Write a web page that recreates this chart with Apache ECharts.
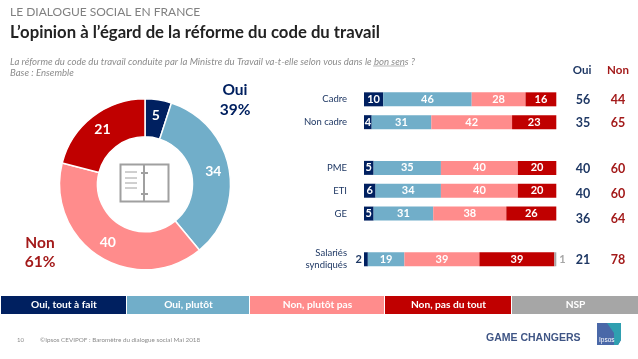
<!DOCTYPE html>
<html><head><meta charset="utf-8">
<style>html,body{margin:0;padding:0;background:#fff}#c{width:638px;height:359px}</style>
<script src="https://cdn.jsdelivr.net/npm/echarts@6/dist/echarts.min.js"></script>
</head><body><div id="c"></div>
<script>
const categories = ['Cadre','Non cadre','','PME','ETI','GE','','Salariés\nsyndiqués'];
const toutAFait = [10,4,null,5,6,5,null,2];
const plutot = [46,31,null,35,34,31,null,19];
const plutotPas = [28,42,null,40,40,38,null,39];
const pasDuTout = [16,23,null,20,20,26,null,39];
const nsp = [null,null,null,null,null,null,null,1];
const ouiTotals = [56,35,null,40,40,36,null,21];
const nonTotals = [44,65,null,60,60,64,null,78];
const totalsNudge = [1,1,0,1,3,5,0,1];
const pieNames = ['Oui, tout à fait','Oui, plutôt','Non, plutôt pas','Non, pas du tout'];
const pieValues = [5,34,40,21];
const legendNames = ['Oui, tout à fait','Oui, plutôt','Non, plutôt pas','Non, pas du tout','NSP'];
const colors = ['#002060','#71AEC9','#FF8C8C','#C00000','#A6A6A6'];
const legendEdges = [1,127,250,385,512,639];

const FONT = 'Lato';
const NAVY = '#1F3864', DARKRED = '#A31A1A';
const chart = echarts.init(document.getElementById('c'), null, {renderer:'canvas'});

function barSeries(name, values, color, overrides){
  return {type:'bar', name, stack:'s', barWidth:14, itemStyle:{color},
    data: values.map((v,i)=> (overrides && overrides[i]) ? {value:v,label:overrides[i]} : v),
    label:{show:true,position:'inside',color:'#fff',fontFamily:FONT,fontWeight:'bold',fontSize:11},
    emphasis:{disabled:true}, animation:false};
}
const txt = (x,y,text,o)=>({type:'text',x,y,style:Object.assign({text,fontFamily:FONT,fontSize:11,fill:'#333',
  align:'left',verticalAlign:'middle'},o||{}),silent:true});

const graphic = [
  txt(10,12,'LE DIALOGUE SOCIAL EN FRANCE',{fontSize:12,fill:'#808080'}),
  txt(10,33,'L’opinion à l’égard de la réforme du code du travail',{fontSize:16.7,fontWeight:'bold',fill:'#222'}),
  txt(10,62,'La réforme du code du travail conduite par la Ministre du Travail va-t-elle selon vous dans le bon sens ?',{fontSize:9.6,fontStyle:'italic',fill:'#8C8C8C'}),
  txt(10,73,'Base : Ensemble',{fontSize:9.6,fontStyle:'italic',fill:'#8C8C8C'}),
  {type:'line',shape:{x1:373,y1:66,x2:405,y2:66},style:{stroke:'#999',lineWidth:0.7},silent:true},
  txt(235,90,'Oui',{fontSize:15.5,fontWeight:'bold',fill:'#002060',align:'center'}),
  txt(235,110,'39%',{fontSize:15.5,fontWeight:'bold',fill:'#002060',align:'center'}),
  txt(40,243,'Non',{fontSize:15.5,fontWeight:'bold',fill:DARKRED,align:'center'}),
  txt(40,262,'61%',{fontSize:15.5,fontWeight:'bold',fill:DARKRED,align:'center'}),
  txt(582,70,'Oui',{fontSize:11.5,fontWeight:'bold',fill:NAVY,align:'center'}),
  txt(618,70,'Non',{fontSize:11.5,fontWeight:'bold',fill:DARKRED,align:'center'}),
  // book icon
  {type:'rect',shape:{x:120.5,y:164.5,width:48,height:37},style:{fill:'none',stroke:'#A0A0A0',lineWidth:2},silent:true},
  {type:'line',shape:{x1:144,y1:164,x2:144,y2:202},style:{stroke:'#A0A0A0',lineWidth:2},silent:true},
  {type:'line',shape:{x1:141,y1:173,x2:148,y2:173},style:{stroke:'#A0A0A0',lineWidth:2},silent:true},
  {type:'line',shape:{x1:141,y1:194,x2:148,y2:194},style:{stroke:'#A0A0A0',lineWidth:2},silent:true},
  ...[172,178,183,188].map(y=>({type:'line',shape:{x1:125,y1:y,x2:137,y2:y},style:{stroke:'#A0A0A0',lineWidth:1},silent:true})),
  // legend band
  ...legendNames.flatMap((n,i)=>[
    {type:'rect',shape:{x:legendEdges[i],y:296,width:legendEdges[i+1]-legendEdges[i]-1,height:18},style:{fill:colors[i]},silent:true},
    txt((legendEdges[i]+legendEdges[i+1])/2,305,n,{fontSize:10.2,fontWeight:'bold',fill:'#fff',align:'center'})
  ]),
  // footer
  txt(17,340,'10',{fontSize:6,fill:'#8C8C8C'}),
  txt(40,340,'©Ipsos CEVIPOF : Baromètre du dialogue social Mai 2018',{fontSize:6.3,fill:'#8C8C8C'}),
  txt(486,338,'GAME CHANGERS',{fontFamily:'Liberation Sans',fontWeight:'bold',fontSize:10.5,fill:'#3F5585'}),
  {type:'polygon',shape:{points:[[597,323],[621,323],[621,340],[618,345],[597,345]]},style:{fill:'#4A68A8'},silent:true},
  {type:'polygon',shape:{points:[[607,323],[621,323],[621,340],[618,345],[614,345],[614,333]]},style:{fill:'#2F9FB0'},silent:true},
  txt(599,340,'Ipsos',{fontFamily:'Liberation Sans',fontSize:6.5,fill:'#fff'})
];

chart.setOption({
  animation:false,
  backgroundColor:'#fff',
  grid:{left:364,top:87.9,width:192.3,height:182.8},
  xAxis:{type:'value',min:0,max:100,show:false},
  yAxis:{type:'category',inverse:true,data:categories,
    axisLine:{show:false},axisTick:{show:false},
    axisLabel:{margin:17,color:NAVY,fontFamily:FONT,fontSize:9.5,align:'right',lineHeight:12}},
  series:[
    barSeries('Oui, tout à fait',toutAFait,colors[0],{7:{position:'left',distance:2,color:'#1F3864'}}),
    barSeries('Oui, plutôt',plutot,colors[1]),
    barSeries('Non, plutôt pas',plutotPas,colors[2]),
    barSeries('Non, pas du tout',pasDuTout,colors[3]),
    barSeries('NSP',nsp,colors[4],{7:{position:'right',distance:3,color:'#A6A6A6'}}),
    {type:'pie',center:[145,184.3],radius:[47.5,85.5],startAngle:90,clockwise:true,animation:false,
      silent:true,
      data:pieValues.map((v,i)=>({name:pieNames[i],value:v,itemStyle:{color:colors[i]}})),
      itemStyle:{borderColor:'#fff',borderWidth:1.5},
      label:{show:true,position:'inside',formatter:'{c}',color:'#fff',fontFamily:FONT,fontWeight:'bold',fontSize:14},
      labelLine:{show:false}}
  ],
  graphic:{elements:graphic}
});

// totals columns, placed on the category rows through the library's scale
const totals = [];
categories.forEach((c,i)=>{
  if(ouiTotals[i]==null) return;
  const y = chart.convertToPixel({yAxisIndex:0}, i) + totalsNudge[i];
  totals.push(txt(583,y,String(ouiTotals[i]),{fontSize:12.5,fontWeight:'bold',fill:NAVY,align:'center'}));
  totals.push(txt(618,y,String(nonTotals[i]),{fontSize:12.5,fontWeight:'bold',fill:DARKRED,align:'center'}));
});
chart.setOption({graphic:{elements:graphic.concat(totals)}});
</script></body></html>
